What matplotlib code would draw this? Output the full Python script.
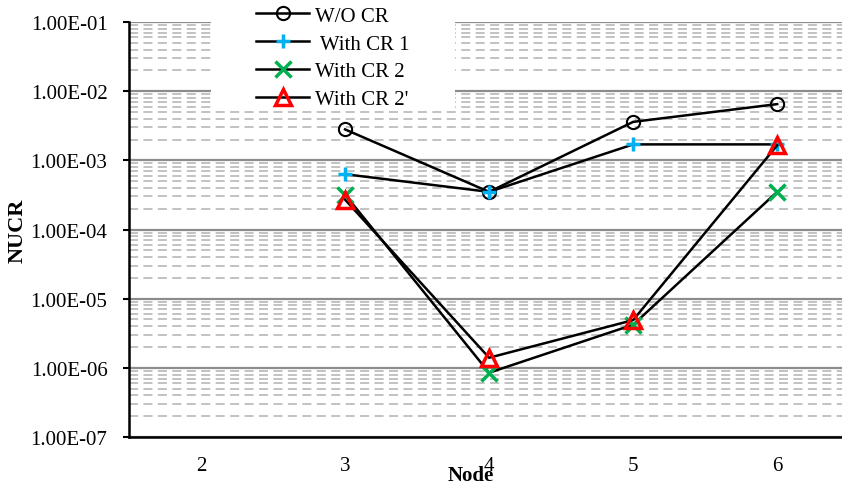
import numpy as np
import matplotlib.pyplot as plt
from matplotlib.patches import Rectangle
from matplotlib.ticker import LogLocator, NullFormatter, FuncFormatter

plt.rcParams['font.family'] = ['Liberation Serif', 'DejaVu Serif']

nodes = [2, 3, 4, 5, 6]
node_labels = ['2', '3', '4', '5', '6']
wo_cr = [np.nan, 2.8e-3, 3.5e-4, 3.6e-3, 6.5e-3]
with_cr1 = [np.nan, 6.3e-4, 3.5e-4, 1.7e-3, 1.7e-3]
with_cr2 = [np.nan, 3.2e-4, 8.5e-7, 4.2e-6, 3.5e-4]
with_cr2p = [np.nan, 2.7e-4, 1.4e-6, 4.9e-6, 1.65e-3]

W, H = 842, 485
fig = plt.figure(figsize=(W / 100, H / 100), dpi=100)
ax = fig.add_axes([129 / W, 47 / H, 713 / W, 415 / H])

ax.plot(nodes, wo_cr, color='black', lw=1.8, marker='o', ms=9.5,
        mfc='none', mec='black', mew=1.5, label='W/O CR', zorder=3)
ax.plot(nodes, with_cr1, color='black', lw=1.8, marker='+', ms=10,
        mec='#00B0F0', mew=2.5, label=' With CR 1', zorder=4)
ax.plot(nodes, with_cr2, color='black', lw=1.8, marker='x', ms=11,
        mec='#00B050', mew=2.5, label='With CR 2', zorder=4)
ax.plot(nodes, with_cr2p, color='black', lw=1.8, marker='^', ms=11,
        mfc='none', mec='#FF0000', mew=2.5, label="With CR 2'", zorder=5)

ax.set_yscale('log')
ax.set_ylim(1e-7, 1e-1)
ax.set_xlim(1.5, 6.45)
ax.set_xticks(nodes)
ax.set_xticklabels(node_labels)

ax.yaxis.set_major_locator(LogLocator(base=10, numticks=10))
ax.yaxis.set_minor_locator(LogLocator(base=10, subs=np.arange(2, 10), numticks=20))
ax.yaxis.set_minor_formatter(NullFormatter())
ax.yaxis.set_major_formatter(FuncFormatter(lambda v, p: '%.2E' % v))

ax.grid(which='major', axis='y', color='#8C8C8C', lw=1.6, ls='-', zorder=0)
ax.grid(which='minor', axis='y', color='#BDBDBD', lw=1.3, ls=(0, (5, 3)), zorder=0)
ax.set_axisbelow(True)

ax.tick_params(axis='y', which='major', direction='out', length=4.5, width=1.5,
               labelsize=15, pad=11)
ax.tick_params(axis='y', which='minor', length=0)
ax.tick_params(axis='x', length=0, labelsize=15, pad=14)

for side in ['top', 'right']:
    ax.spines[side].set_visible(False)
ax.spines['left'].set_linewidth(1.8)
ax.spines['bottom'].set_linewidth(1.8)

ax.set_ylabel('NUCR', fontsize=16, fontweight='bold', labelpad=2)
ax.set_xlabel('Node', fontsize=15, fontweight='bold')
ax.xaxis.set_label_coords((471 - 129) / 713, -0.068)
ax.xaxis.label.set_va('top')

# white block behind the legend hides the gridlines there
ax.add_patch(Rectangle((211 / W, 1 - 110 / H), 244 / W, 110 / H,
                       transform=fig.transFigure, facecolor='white',
                       edgecolor='none', clip_on=False, zorder=2))

leg = ax.legend(loc='upper left', bbox_to_anchor=(256 / W, 1 - 7 / H),
                bbox_transform=fig.transFigure, fontsize=15, frameon=False,
                handlelength=2.55, handletextpad=0.3, labelspacing=0.4,
                borderpad=0, borderaxespad=0)
leg.set_zorder(10)

fig.savefig('out.png', dpi=100)
